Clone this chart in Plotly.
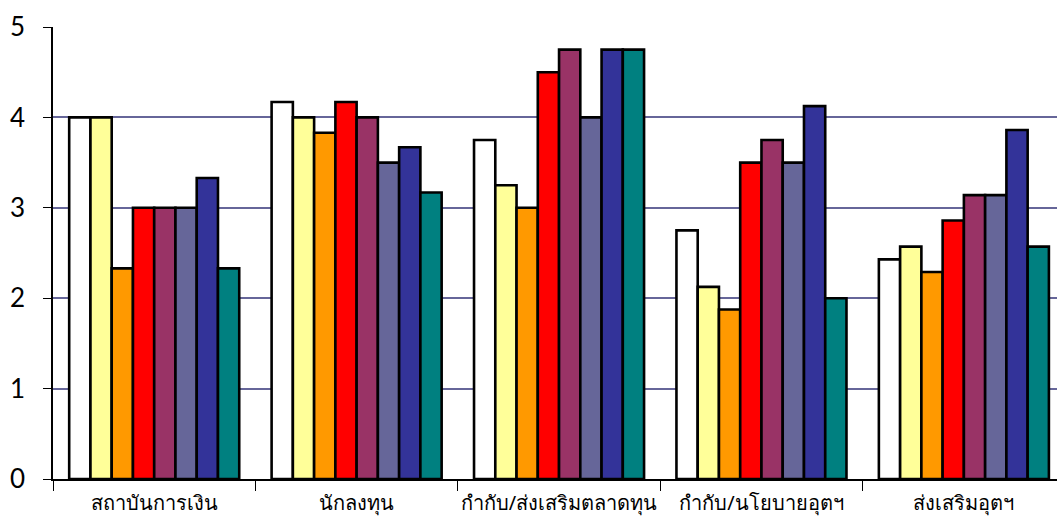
import plotly.graph_objects as go

# Categories along the x axis
categories = ["สถาบันการเงิน", "นักลงทุน", "กำกับ/ส่งเสริมตลาดทุน", "กำกับ/นโยบายอุตฯ", "ส่งเสริมอุตฯ"]

# Average scores per respondent group (one list per series)
series_1 = [4.00, 4.17, 3.75, 2.75, 2.43]
series_2 = [4.00, 4.00, 3.25, 2.125, 2.57]
series_3 = [2.33, 3.83, 3.00, 1.875, 2.29]
series_4 = [3.00, 4.17, 4.50, 3.50, 2.86]
series_5 = [3.00, 4.00, 4.75, 3.75, 3.14]
series_6 = [3.00, 3.50, 4.00, 3.50, 3.14]
series_7 = [3.33, 3.67, 4.75, 4.125, 3.86]
series_8 = [2.33, 3.17, 4.75, 2.00, 2.57]

y_ticks = [0, 1, 2, 3, 4, 5]

all_series = [series_1, series_2, series_3, series_4, series_5, series_6, series_7, series_8]
colors = ["#FFFFFF", "#FFFF99", "#FF9900", "#FF0000", "#993366", "#666699", "#333399", "#008080"]

fig = go.Figure()
for vals, col in zip(all_series, colors):
    fig.add_trace(go.Bar(
        x=categories, y=vals,
        marker=dict(color=col, line=dict(color="#000000", width=2.6)),
        showlegend=False,
    ))

fig.update_layout(
    width=1057, height=529,
    margin=dict(l=53, r=0, t=27, b=50),
    paper_bgcolor="white", plot_bgcolor="white",
    barmode="group", bargap=0.16, bargroupgap=0,
    font=dict(family="Noto Sans, DejaVu Sans, sans-serif", color="#000000"),
)
fig.update_xaxes(
    type="category",
    range=[-0.5, 4.46],
    automargin=False,
    showline=True, linecolor="#000000", linewidth=1.5,
    ticks="outside", tickson="boundaries", ticklen=10, tickcolor="#000000",
    ticklabelstandoff=5, tickangle=0,
    tickfont=dict(size=20),
    showgrid=False,
)
fig.update_yaxes(
    range=[0, 5], tickvals=y_ticks,
    automargin=False,
    showline=True, linecolor="#000000", linewidth=1.5,
    ticks="outside", ticklen=8, tickcolor="#000000",
    ticklabelstandoff=13,
    tickfont=dict(family="Lato, Noto Sans, sans-serif", size=26),
    showgrid=True, gridcolor="#666699", gridwidth=2,
    zeroline=False,
)

fig.write_html("out.html")
